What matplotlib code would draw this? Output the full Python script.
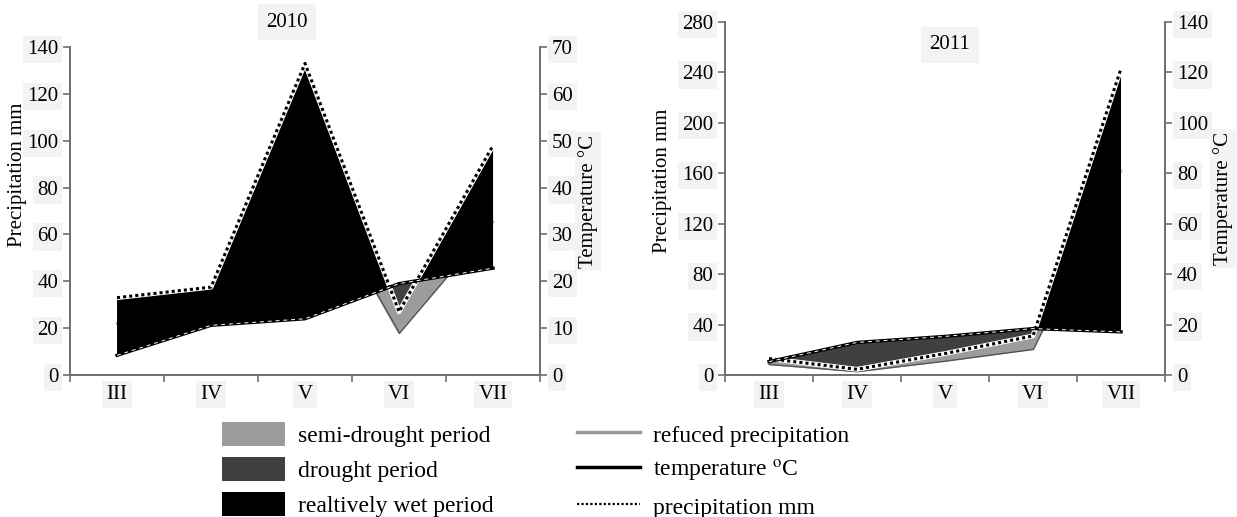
import numpy as np
import matplotlib
matplotlib.use("Agg")
import matplotlib.pyplot as plt
from matplotlib.patches import Patch
from matplotlib.lines import Line2D

plt.rcParams['font.family'] = ['Liberation Serif', 'DejaVu Serif']
plt.rcParams['mathtext.fontset'] = 'stix'

months = ["III", "IV", "V", "VI", "VII"]

# precipitation (mm) and mean temperature (°C) per month
prec_2010 = [33, 37.5, 133, 27, 98]
temp_2010 = [4.2, 10.6, 12.0, 19.5, 22.8]
prec_2011 = [13, 4.5, 17, 31, 243]
temp_2011 = [5.3, 12.9, 15.3, 18.4, 17.1]

prec_ticks_2010 = [0, 20, 40, 60, 80, 100, 120, 140]
temp_ticks_2010 = [0, 10, 20, 30, 40, 50, 60, 70]
prec_ticks_2011 = [0, 40, 80, 120, 160, 200, 240, 280]
temp_ticks_2011 = [0, 20, 40, 60, 80, 100, 120, 140]

SEMI = "#9c9c9c"
DROUGHT = "#404040"
WET = "black"
AXC = "#707070"
BOXC = "#f3f3f3"
FS = 15

fig = plt.figure(figsize=(12.37, 5.17), dpi=100)


def climate_panel(rect, prec, temp, pticks, tticks, year, year_xy,
                  plabel_xy, tlabel_xy):
    ax = fig.add_axes(rect)
    ax2 = ax.twinx()
    x = np.arange(len(months))
    p = np.array(prec, dtype=float)
    t2 = np.array(temp, dtype=float) * 2  # Walter-Lieth scale P = 2T
    pr = p * 2 / 3                          # reduced precipitation (P = 3T)

    ax.plot(x, pr, color="#999999", lw=1.5, zorder=1)
    ax.fill_between(x, t2, pr, where=pr < t2, interpolate=True,
                    facecolor=SEMI, edgecolor="#555555", lw=1, zorder=2)
    ax.fill_between(x, t2, p, where=p < t2, interpolate=True,
                    facecolor=DROUGHT, edgecolor="none", zorder=3)
    ax.fill_between(x, t2, p, where=p >= t2, interpolate=True,
                    facecolor=WET, edgecolor="none", zorder=3)
    ax.plot(x, p, color="white", lw=3.5, zorder=4)
    ax.plot(x, p, color="black", lw=2.2, ls=(0, (1, 1)), zorder=5)

    ax2.plot(x, temp, color="black", lw=2.4, zorder=5)
    ax2.plot(x, temp, color="white", lw=0.7, ls=(0, (4, 4)), zorder=6)

    ax.set_xlim(-0.5, len(months) - 0.5)
    ax.set_ylim(pticks[0], pticks[-1])
    ax2.set_ylim(tticks[0], tticks[-1])
    ax.set_yticks(pticks)
    ax2.set_yticks(tticks)
    ax.set_xticks(x)
    ax.set_xticklabels(months)
    ax.set_xticks(np.arange(len(months) + 1) - 0.5, minor=True)

    for a in (ax, ax2):
        a.spines["top"].set_visible(False)
        for s in ("left", "right", "bottom"):
            a.spines[s].set_color(AXC)
            a.spines[s].set_linewidth(1.3)
        a.tick_params(axis="y", colors=AXC, labelcolor="black",
                      labelsize=FS, length=5, width=1.2, direction="out")
    ax.tick_params(axis="x", which="major", length=0, labelsize=FS, pad=7)
    ax.tick_params(axis="x", which="minor", length=5, width=1.2,
                   color=AXC, direction="out")

    for lab in ax.get_yticklabels() + ax2.get_yticklabels() + ax.get_xticklabels():
        lab.set_bbox(dict(facecolor=BOXC, edgecolor="none", pad=3))

    ax.set_ylabel("Precipitation mm", fontsize=FS)
    ax.yaxis.set_label_coords(*plabel_xy)
    ax2.set_ylabel("Temperature °C", fontsize=FS)
    ax2.yaxis.set_label_coords(*tlabel_xy)
    ax2.yaxis.label.set_bbox(dict(facecolor=BOXC, edgecolor="none", pad=2))

    ax.text(year_xy[0], year_xy[1], year, transform=ax.transAxes,
            ha="center", va="center", fontsize=FS,
            bbox=dict(facecolor=BOXC, edgecolor="none", pad=6))
    return ax


climate_panel([0.0566, 0.2747, 0.380, 0.6344], prec_2010, temp_2010,
              prec_ticks_2010, temp_ticks_2010, "2010", (0.462, 1.076),
              (-0.091, 0.61), (1.081, 0.53))
climate_panel([0.5861, 0.2747, 0.3557, 0.6828], prec_2011, temp_2011,
              prec_ticks_2011, temp_ticks_2011, "2011", (0.511, 0.935),
              (-0.12, 0.55), (1.109, 0.50))

handles = [
    Patch(facecolor=SEMI, edgecolor="none"),
    Patch(facecolor=DROUGHT, edgecolor="none"),
    Patch(facecolor=WET, edgecolor="none"),
    Line2D([], [], color="#999999", lw=2.5),
    Line2D([], [], color="black", lw=2.5),
    Line2D([], [], color="black", lw=1.6, ls=(0, (1, 1))),
]
labels = [
    "semi-drought period",
    "drought period",
    "realtively wet period",
    "refuced precipitation",
    r"temperature $^{\rm o}$C",
    "precipitation mm",
]
fig.legend(handles, labels, ncol=2, loc="lower center",
           bbox_to_anchor=(0.433, -0.027), frameon=False, fontsize=17,
           handlelength=2.67, handleheight=1.19, handletextpad=0.55,
           labelspacing=0.42, columnspacing=3.5, borderpad=0)

fig.savefig("out.png", dpi=100)
